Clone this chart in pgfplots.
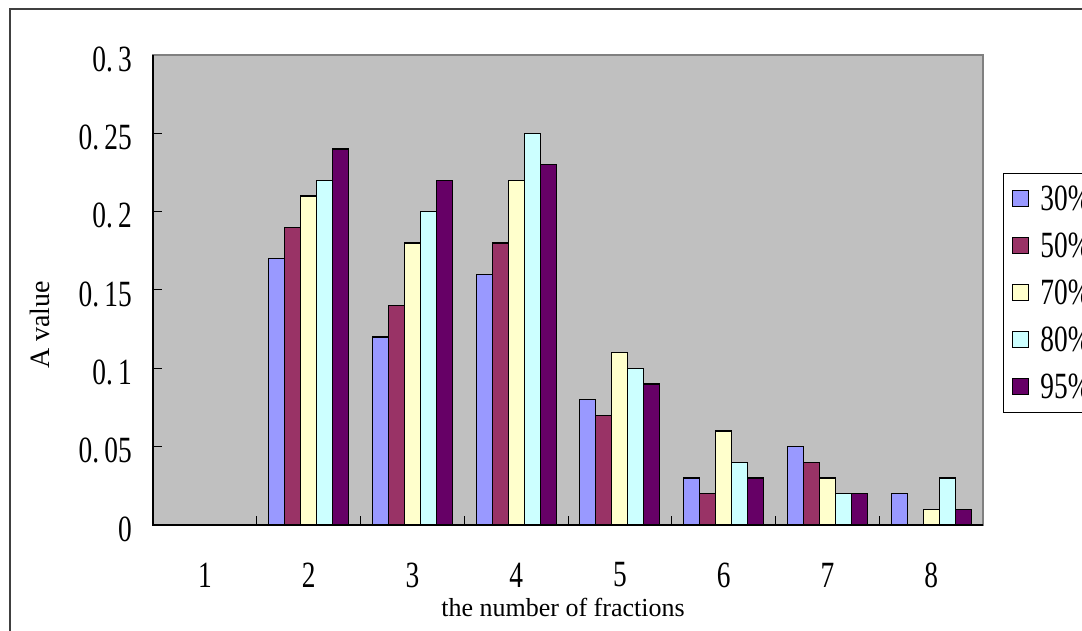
\documentclass[border=0pt]{standalone}
\usepackage{fontspec}
\setmainfont{Liberation Serif}
\usepackage{graphicx}
\usepackage{pgfplots}
\pgfplotsset{compat=1.18}

\definecolor{cA}{RGB}{153,153,255}
\definecolor{cB}{RGB}{153,51,102}
\definecolor{cC}{RGB}{255,255,204}
\definecolor{cD}{RGB}{204,255,255}
\definecolor{cE}{RGB}{102,0,102}
\definecolor{plotbg}{RGB}{192,192,192}
\definecolor{framec}{RGB}{64,64,64}
\definecolor{edgec}{RGB}{128,128,128}

% condensed label font
\newcommand{\tl}[1]{\scalebox{0.74}[1]{\fontsize{37}{37}\selectfont #1}}

\begin{document}
\begin{tikzpicture}
\useasboundingbox (0,0) rectangle (1082pt,631pt);
\draw[line width=1.5pt, framec] (10pt,-20pt) rectangle (1110pt,622pt);
\begin{axis}[
  at={(153pt,106pt)}, anchor=south west,
  scale only axis, width=830pt, height=470pt,
  xmin=-0.5, xmax=7.5, ymin=0, ymax=0.3,
  ybar=0pt, bar width=16pt,
  axis line style={edgec, line width=1.2pt},
  axis background/.style={fill=plotbg},
  clip=false,
  xtick pos=bottom, ytick pos=left,
  tick align=inside, xtick align=inside, ytick align=inside,
  major tick length=9pt,
  tick style={black, line width=1pt},
  % tick marks between the categories
  xtick={-0.5,0.5,1.5,2.5,3.5,4.5,5.5,6.5,7.5},
  xticklabels={},
  % category names at the group centres
  extra x ticks={0,1,2,3,4,5,6,7},
  extra x tick labels={\tl{1},\tl{2},\tl{3},\tl{4},\tl{5},\tl{6},\tl{7},\tl{8}},
  extra x tick style={major tick length=0pt, tick style={draw=none},
    xticklabel style={anchor=center, inner sep=0pt, yshift=-50pt}},
  ytick={0,0.05,0.1,0.15,0.2,0.25,0.3},
  yticklabels={\tl{0},\tl{0.\hspace{7pt}05},\tl{0.\hspace{7pt}1},\tl{0.\hspace{7pt}15},\tl{0.\hspace{7pt}2},\tl{0.\hspace{7pt}25},\tl{0.\hspace{7pt}3}},
  yticklabel style={anchor=east, inner sep=0pt, xshift=-21pt, yshift=-4pt},
  xlabel={the number of fractions},
  xlabel style={at={(axis description cs:0.494,-0.1765)}, anchor=center, inner sep=0pt, font=\fontsize{26}{26}\selectfont},
  ylabel={A value},
  ylabel style={at={(axis description cs:-0.1361,0.4255)}, anchor=center, inner sep=0pt, font=\fontsize{28}{28}\selectfont},
  every axis plot/.append style={draw=black, line width=1.2pt},
  legend image code/.code={\draw[#1, line width=1pt] (0pt,-8pt) rectangle (16pt,8pt);},
  legend style={at={(axis description cs:1.0241,0.749)}, anchor=north west,
    draw=black, line width=1pt, fill=white,
    inner xsep=9pt, inner ysep=12pt, row sep=21pt,
    nodes={inner sep=0pt},
    /tikz/every odd column/.append style={column sep=11pt}},
  legend cell align=left,
]
% A value for each fraction count at five levels
\addplot[fill=cA] coordinates {(0,0) (1,0.17) (2,0.12) (3,0.16) (4,0.08) (5,0.03) (6,0.05) (7,0.02)};
\addplot[fill=cB] coordinates {(0,0) (1,0.19) (2,0.14) (3,0.18) (4,0.07) (5,0.02) (6,0.04) (7,0)};
\addplot[fill=cC] coordinates {(0,0) (1,0.21) (2,0.18) (3,0.22) (4,0.11) (5,0.06) (6,0.03) (7,0.01)};
\addplot[fill=cD] coordinates {(0,0) (1,0.22) (2,0.20) (3,0.25) (4,0.10) (5,0.04) (6,0.02) (7,0.03)};
\addplot[fill=cE] coordinates {(0,0) (1,0.24) (2,0.22) (3,0.23) (4,0.09) (5,0.03) (6,0.02) (7,0.01)};
\legend{\tl{30\%},\tl{50\%},\tl{70\%},\tl{80\%},\tl{95\%}}
% dark left and bottom axis lines
\draw[black, line width=1.4pt] (rel axis cs:0,1) -- (rel axis cs:0,0) -- (rel axis cs:1,0);
\end{axis}
\end{tikzpicture}
\end{document}
